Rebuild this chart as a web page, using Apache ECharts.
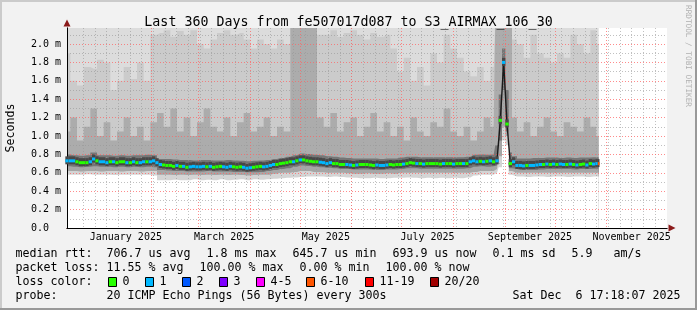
<!DOCTYPE html>
<html><head><meta charset="utf-8">
<script src="https://cdn.jsdelivr.net/npm/echarts@6/dist/echarts.min.js"></script>
<style>html,body{margin:0;padding:0;background:#f2f2f2}#c{width:697px;height:310px}</style>
</head><body><div id="c"></div>
<script>
// ---------------- DATA ----------------
// x axis: days since graph start (Dec 11 2024 ~ 17:18); Jan 1 2025 sits at day 19.8
const JAN1 = 19.8;
const monthStartDoy = [0,31,59,90,120,151,181,212,243,273,304,334];
const monthLabelDoy = [15.5, 74.5, 135.5, 196.5, 258, 319];
const monthLabels = ['January 2025','March 2025','May 2025','July 2025','September 2025','November 2025'];
const firstSundayDay = 2.8; // Dec 15 2024

// median RTT (ms), one sample per 2 days, last sample at day 319
const medVal = [
 0.73,0.73,0.73,0.72,0.71, 0.71,0.71,0.72,0.75,0.73,
 0.72,0.72,0.71,0.72,0.72, 0.71,0.72,0.72,0.71,0.71,
 0.72,0.71,0.71,0.72,0.72, 0.72,0.73,0.71,0.69,0.685,
 0.68,0.68,0.67,0.68,0.67, 0.67,0.66,0.665,0.67,0.665,
 0.665,0.67,0.665,0.67,0.66, 0.665,0.67,0.665,0.66,0.67,
 0.665,0.66,0.665,0.66,0.65, 0.655,0.66,0.665,0.67,0.665,
 0.67,0.68,0.69,0.69,0.70, 0.705,0.71,0.72,0.72,0.73,
 0.74,0.74,0.73,0.725,0.72, 0.72,0.715,0.71,0.70,0.71,
 0.70,0.70,0.69,0.69,0.69, 0.685,0.68,0.685,0.69,0.69,
 0.69,0.685,0.68,0.685,0.68, 0.68,0.685,0.69,0.685,0.69,
 0.69,0.695,0.70,0.71,0.705, 0.70,0.70,0.695,0.70,0.70,
 0.70,0.70,0.695,0.70,0.70, 0.70,0.695,0.70,0.70,0.70,
 0.70,0.72,0.73,0.72,0.725, 0.72,0.725,0.73,0.72,0.73,
 1.17,1.80,1.13,0.70,0.72, 0.68,0.68,0.675,0.68,0.68,
 0.68,0.685,0.69,0.69,0.695, 0.69,0.695,0.69,0.695,0.69,
 0.69,0.695,0.69,0.685,0.69, 0.695,0.685,0.70,0.695,0.70,
 0.70
];
// lost pings (of 20) per median sample
const medLoss = [
 1,1,1,0,0, 0,0,1,1,0,
 1,1,1,0,1, 0,0,0,1,0,
 1,0,1,1,0, 1,1,1,1,0,
 0,0,0,1,0, 1,0,1,1,1,
 1,1,0,1,0, 0,0,1,1,1,
 0,0,0,1,1, 1,0,0,0,1,
 1,1,1,0,0, 0,0,0,1,0,
 1,0,0,0,0, 0,1,1,1,1,
 0,0,0,0,1, 1,0,1,0,0,
 0,0,0,1,1, 1,1,0,0,0,
 0,1,0,0,0, 1,0,1,0,0,
 0,0,0,1,0, 0,1,0,0,1,
 0,1,1,1,0, 1,0,1,0,1,
 0,1,0,0,1, 1,1,1,0,1,
 1,1,1,0,1, 0,1,0,1,1,
 0,1,0,1,0, 0,1,0,1,1,
 7
];

// smoke (sorted ping distribution) sampled at these days
const smokeDays = [
 0,4,8,12,16,20,24,28,32,36,
 40,44,48,52,56,60,64,68,72,76,
 80,84,88,92,96,100,104,108,112,116,
 120,124,128,132,136,140,144,148,152,156,
 160,164,168,172,176,180,184,188,192,196,
 200,204,208,212,216,220,224,228,232,236,
 240,244,248,252,256,258,260,262,264,266,
 268,272,276,280,284,288,292,296,300,304,
 308,312,316,319
];
const sLo = [
 0.58,0.58,0.58,0.585,0.58,0.58,0.58,0.575,0.58,0.58,
 0.58,0.58,0.58,0.57,0.52,0.52,0.525,0.52,0.52,0.53,
 0.52,0.525,0.52,0.53,0.52,0.525,0.53,0.52,0.53,0.525,
 0.53,0.535,0.54,0.545,0.55,0.555,0.56,0.56,0.56,0.555,
 0.56,0.555,0.55,0.545,0.54,0.54,0.545,0.54,0.54,0.545,
 0.545,0.55,0.545,0.54,0.545,0.54,0.545,0.54,0.545,0.54,
 0.55,0.57,0.58,0.58,0.58,0.6,0.66,0.95,0.9,0.58,
 0.56,0.56,0.555,0.56,0.56,0.555,0.56,0.56,0.555,0.56,
 0.56,0.555,0.56,0.56
];
const sL2 = [
 0.62,0.62,0.615,0.62,0.62,0.615,0.62,0.62,0.615,0.62,
 0.62,0.615,0.62,0.62,0.58,0.58,0.575,0.58,0.575,0.58,
 0.575,0.58,0.575,0.58,0.575,0.58,0.575,0.57,0.575,0.58,
 0.58,0.59,0.6,0.6,0.61,0.62,0.62,0.61,0.605,0.6,
 0.6,0.6,0.595,0.59,0.59,0.595,0.59,0.59,0.595,0.59,
 0.6,0.6,0.6,0.6,0.6,0.6,0.6,0.6,0.6,0.6,
 0.6,0.61,0.62,0.62,0.62,0.64,0.78,1.1,1.0,0.62,
 0.6,0.6,0.6,0.6,0.6,0.6,0.6,0.6,0.6,0.6,
 0.6,0.6,0.6,0.6
];
const cLo = [
 0.67,0.665,0.66,0.665,0.67,0.665,0.665,0.66,0.665,0.66,
 0.665,0.66,0.665,0.66,0.63,0.625,0.62,0.62,0.615,0.615,
 0.615,0.62,0.615,0.615,0.615,0.61,0.61,0.605,0.605,0.61,
 0.62,0.63,0.64,0.65,0.665,0.68,0.675,0.665,0.66,0.655,
 0.65,0.64,0.64,0.635,0.635,0.635,0.63,0.63,0.635,0.635,
 0.64,0.65,0.65,0.645,0.645,0.645,0.645,0.645,0.645,0.645,
 0.65,0.665,0.67,0.665,0.67,0.68,0.95,1.5,1.05,0.65,
 0.64,0.63,0.63,0.63,0.635,0.64,0.64,0.64,0.64,0.635,
 0.64,0.64,0.645,0.645
];
const cHi = [
 0.8,0.79,0.785,0.79,0.82,0.79,0.79,0.785,0.79,0.785,
 0.79,0.79,0.795,0.79,0.75,0.75,0.745,0.74,0.74,0.735,
 0.74,0.74,0.735,0.735,0.74,0.735,0.73,0.725,0.73,0.735,
 0.74,0.75,0.76,0.775,0.79,0.81,0.805,0.795,0.79,0.78,
 0.775,0.765,0.76,0.755,0.755,0.755,0.755,0.75,0.755,0.755,
 0.765,0.775,0.775,0.77,0.77,0.77,0.77,0.77,0.77,0.77,
 0.775,0.795,0.8,0.795,0.8,0.9,1.45,1.95,1.5,0.82,
 0.78,0.755,0.755,0.76,0.76,0.765,0.765,0.76,0.765,0.76,
 0.765,0.765,0.77,0.77
];
const mHi = [
 1.05,1.2,0.95,1.1,1.3,1.0,1.15,0.95,1.05,1.2,
 1.0,1.1,0.95,1.15,1.25,1.1,1.3,1.05,1.2,1.0,
 1.15,1.3,1.1,1.05,1.2,1.0,1.15,1.25,1.05,1.1,
 1.2,1.0,1.1,1.05,2.3,2.3,2.3,2.3,1.2,1.1,
 1.25,1.05,1.15,1.2,1.0,1.1,1.25,1.05,1.15,1.0,
 1.1,0.95,1.2,1.05,1.0,1.15,1.1,1.3,1.05,1.0,
 1.1,0.95,1.05,1.2,1.1,2.3,2.3,2.3,2.3,2.3,
 1.2,1.05,1.15,1.0,1.1,1.2,1.05,1.0,1.15,1.1,
 1.05,1.2,1.1,1.0
];
const uHi = [
 1.9,1.6,1.55,1.75,1.73,1.83,1.8,1.5,1.6,1.75,
 1.62,1.8,1.6,2.1,2.12,2.15,2.08,2.14,2.1,2.15,
 2.0,1.95,2.05,2.12,2.15,2.1,2.12,2.05,1.95,2.05,
 2.0,1.95,2.05,2.0,2.3,2.3,2.3,2.3,2.1,2.1,
 2.15,2.08,2.12,2.15,2.1,2.05,2.12,2.08,2.1,1.95,
 1.7,1.85,1.6,1.75,1.55,1.9,1.8,2.1,1.95,1.85,
 1.7,1.65,1.75,1.6,1.75,2.3,2.3,2.3,2.3,2.3,
 2.05,2.0,1.85,2.1,1.9,1.85,1.8,1.9,1.85,2.1,
 2.0,1.9,2.15,2.0
];
const maxPing = [
 2.3,2.3,2.3,2.3,2.3,2.3,2.3,2.3,2.3,2.3,
 2.3,2.3,2.3,2.3,2.3,2.3,2.3,2.3,2.3,2.3,
 2.3,2.3,2.3,2.3,2.3,2.3,2.3,2.3,2.3,2.3,
 2.3,2.3,2.3,2.3,2.3,2.3,2.3,2.3,2.3,2.3,
 2.3,2.3,2.3,2.3,2.3,2.3,2.3,2.3,2.3,2.3,
 2.3,2.3,2.3,2.3,2.3,2.3,2.3,2.3,2.3,2.3,
 2.3,2.3,2.3,2.3,2.3,2.3,2.3,2.3,2.3,2.3,
 2.3,2.3,2.3,2.3,2.3,2.3,2.3,2.3,2.3,2.3,
 2.3,2.3,2.3,2.3
];

const lossLegend = ['0','1','2','3','4-5','6-10','11-19','20/20'];
const lossColors = ['#26ff00','#00b8ff','#0059ff','#7e00ff','#ff00ff','#ff5500','#ff0000','#a10000'];

const titleText = 'Last 360 Days from fe507017d087 to S3_AIRMAX_106_30';
const legendRows = [
  [[16,'median rtt:'],[107,'706.7 us avg'],[207,'1.8 ms max'],[293,'645.7 us min'],[393,'693.9 us now'],[493,'0.1 ms sd'],[572,'5.9'],[614,'am/s']],
  [[16,'packet loss:'],[107,'11.55 % avg'],[200,'100.00 % max'],[300,'0.00 % min'],[386,'100.00 % now']],
  [[16,'loss color:']],
  [[16,'probe:'],[107,'20 ICMP Echo Pings (56 Bytes) every 300s'],[513,'Sat Dec  6 17:18:07 2025']]
];

// ---------------- BUILD ----------------
const MONO = '"DejaVu Sans Mono", monospace';
const medDays = medVal.map((_, i) => i < medVal.length - 1 ? i * 2 : 319);
function lossIdx(l){ if(l<=3) return l; if(l<=5) return 4; if(l<=10) return 5; if(l<=19) return 6; return 7; }
const medData = medDays.map((d, i) => {
  const prev = i > 0 ? medDays[i-1] : d - (medDays[1] - medDays[0]);
  const next = i < medDays.length - 1 ? medDays[i+1] : d + (d - medDays[i-1]);
  return [d, medVal[i], medLoss[i], (prev + d) / 2, (d + next) / 2];
});
const monthStarts = monthStartDoy.map(v => v + JAN1).filter(v => v >= 0 && v <= 360);
const labelDays = monthLabelDoy.map(v => v + JAN1);
const weeks = []; for (let w = firstSundayDay; w <= 360; w += 7) weeks.push(w);

// painter's order: tallest boundary first, each filled from 0 up to its boundary
const bounds = [maxPing, uHi, mHi, cHi, cLo, sL2, sLo];
const fillColors = ['#dcdcdc', '#cbcbcb', '#acacac', '#767676', '#a6a6a6', '#d4d4d4', '#ffffff'];
const smokeSeries = bounds.map((arr, k) => ({
  type: 'line', step: 'middle', symbol: 'none', z: 1, silent: true,
  xAxisIndex: 0, yAxisIndex: 0,
  data: smokeDays.map((d, i) => [d, arr[i]]),
  lineStyle: { width: 0, opacity: 0 },
  areaStyle: { color: fillColors[k], opacity: 1, origin: 'start' }
}));

const YMAX = 200 / 92;
const graphics = [
  { type:'rect', shape:{x:0,y:0,width:697,height:2}, style:{fill:'#cbcbcb'}, silent:true },
  { type:'rect', shape:{x:0,y:0,width:2,height:310}, style:{fill:'#cbcbcb'}, silent:true },
  { type:'rect', shape:{x:695,y:0,width:2,height:310}, style:{fill:'#999999'}, silent:true },
  { type:'rect', shape:{x:0,y:308,width:697,height:2}, style:{fill:'#999999'}, silent:true },
  { type:'text', x:11, y:128, rotation: Math.PI/2, style:{ text:'Seconds', font:'11.63px ' + MONO, fill:'#000', align:'center', verticalAlign:'middle' } },
  { type:'text', x:688, y:56, rotation: -Math.PI/2, style:{ text:'RRDTOOL / TOBI OETIKER', font:'7.7px ' + MONO, fill:'#b0b0b0', align:'center', verticalAlign:'middle' } }
];
const rowY = [254, 268, 282, 296];
legendRows.forEach((row, r) => row.forEach(([x, t]) => graphics.push({
  type:'text', x: x - 0.5, y: rowY[r], style:{ text:t, font:'11.63px ' + MONO, fill:'#000', align:'left', verticalAlign:'middle' }
})));
const sqX = [108.5, 145.5, 182.5, 219.5, 256.5, 306.5, 365.5, 430.5];
lossLegend.forEach((t, i) => {
  graphics.push({ type:'rect', shape:{x:sqX[i], y:rowY[2]-4.5, width:8, height:9}, style:{fill:lossColors[i], stroke:'#000', lineWidth:1} });
  graphics.push({ type:'text', x:sqX[i] + 14, y:rowY[2], style:{ text:t, font:'11.63px ' + MONO, fill:'#000', align:'left', verticalAlign:'middle' } });
});

const chart = echarts.init(document.getElementById('c'), null, { renderer: 'canvas' });
chart.setOption({
  animation: false,
  backgroundColor: '#f2f2f2',
  title: { text: titleText, left: 'center', top: 11, textStyle: { fontFamily: MONO, fontSize: 13.3, fontWeight: 'normal', color: '#000' } },
  grid: { left: 67, top: 28, width: 600, height: 200, show: true, backgroundColor: '#ffffff', borderWidth: 0 },
  xAxis: [
    { type:'value', min:0, max:360, position:'bottom', z:4,
      axisLine:{ show:true, onZero:false, lineStyle:{ color:'#000', width:1 } },
      axisTick:{ show:false, customValues: monthStarts },
      splitLine:{ show:true, showMinLine:false, showMaxLine:false, lineStyle:{ color:'rgba(255,100,100,0.75)', type:[1,2], width:1 } },
      axisLabel:{ show:true, customValues: labelDays, margin:4, fontFamily: MONO, fontSize:10, color:'#000',
        formatter: v => { let b = 0; labelDays.forEach((d,i)=>{ if (Math.abs(d-v) < Math.abs(labelDays[b]-v)) b = i; }); return monthLabels[b]; } }
    },
    { type:'value', min:0, max:360, position:'bottom', z:3,
      axisLine:{ show:true, onZero:false, symbol:['none','triangle'], symbolSize:[7,7], symbolOffset:[0,5], lineStyle:{ color:'#8b1a1a', width:1 } },
      axisTick:{ show:false, customValues: weeks },
      splitLine:{ show:true, showMinLine:false, showMaxLine:false, lineStyle:{ color:'rgba(150,150,150,0.6)', type:[1,2], width:1 } },
      axisLabel:{ show:false }
    }
  ],
  yAxis: [
    { type:'value', min:0, max:YMAX, interval:0.1, position:'left', z:4,
      axisLine:{ show:true, onZero:false, lineStyle:{ color:'#000', width:1 } },
      axisTick:{ show:false },
      splitLine:{ show:true, showMinLine:true, showMaxLine:false, lineStyle:{ color:['rgba(255,100,100,0.75)','rgba(150,150,150,0.6)'], type:[1,2], width:1 } },
      axisLabel:{ margin:6, fontFamily: MONO, fontSize:10, color:'#000',
        formatter: v => { const k = Math.round(v*10); if (Math.abs(v*10-k) > 1e-6 || k % 2) return ''; return k === 0 ? '0.0  ' : (k/10).toFixed(1) + ' m'; } }
    },
    { type:'value', min:0, max:YMAX, position:'left', z:3,
      axisLine:{ show:true, onZero:false, symbol:['none','triangle'], symbolSize:[7,7], symbolOffset:[0,5], lineStyle:{ color:'#8b1a1a', width:1 } },
      axisTick:{ show:false }, splitLine:{ show:false }, axisLabel:{ show:false }
    }
  ],
  series: smokeSeries.concat([
    { type:'line', z:5, symbol:'none', silent:true, data: medDays.map((d,i)=>[d, medVal[i]]),
      lineStyle:{ color:'#1a1a1a', width:1.4 } },
    { type:'custom', z:6, silent:true, data: medData, encode:{ x:0, y:1 },
      renderItem: (params, api) => {
        const y = api.value(1);
        const p0 = api.coord([api.value(3), y]);
        const p1 = api.coord([api.value(4), y]);
        const w = p1[0] - p0[0];
        return { type:'group', children: [
          { type:'rect', shape:{ x:p0[0], y:p0[1]-4.5, width:w, height:8 }, style:{ fill:'#474747' } },
          { type:'rect', shape:{ x:p0[0], y:p0[1]-1.5, width:w, height:3 }, style:{ fill: lossColors[lossIdx(api.value(2))] } }
        ] };
      }
    }
  ]),
  graphic: graphics
});
</script></body></html>
